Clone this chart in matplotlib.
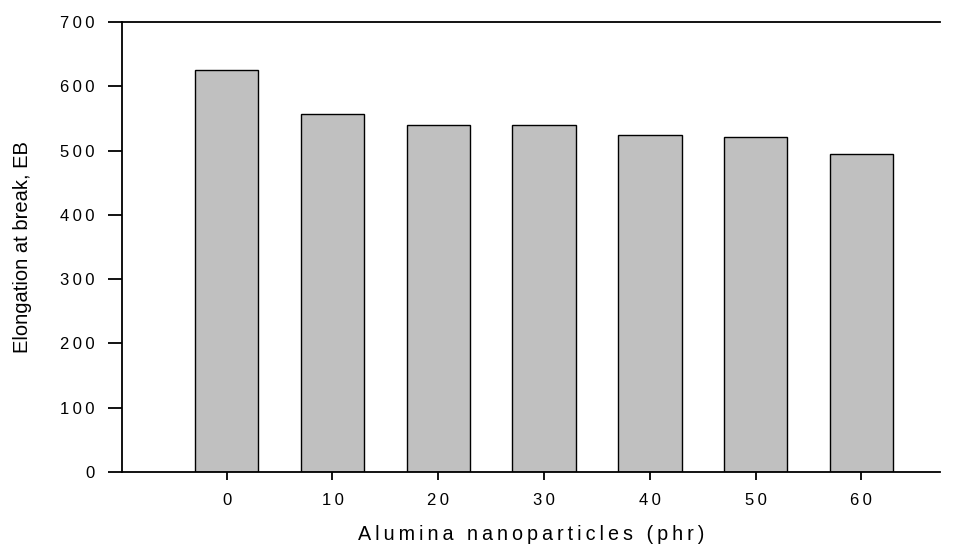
import matplotlib
matplotlib.use("Agg")
import matplotlib.pyplot as plt

categories = ["0", "10", "20", "30", "40", "50", "60"]
values = [625, 557, 540, 540, 524, 521, 495]
yticks = [0, 100, 200, 300, 400, 500, 600, 700]

plt.rcParams['font.family'] = ['Liberation Sans', 'DejaVu Sans']

def spaced(s, sep):
    return sep.join(list(s))

fig = plt.figure(figsize=(9.55, 5.46), dpi=100)
ax = fig.add_axes([0.1277, 0.1355, 0.984 - 0.1277, 0.9597 - 0.1355])

x = list(range(len(categories)))
ax.bar(x, values, width=0.6, color="#c0c0c0", edgecolor="black", linewidth=1.0, zorder=2)

ax.set_xlim(-0.99, 6.74)
ax.set_ylim(0, 700)
ax.set_xticks(x)
ax.set_xticklabels([spaced(c, "\u2009") for c in categories])
ax.set_yticks(yticks)
ax.set_yticklabels([spaced(str(t), "\u2009") for t in yticks])

ax.spines['right'].set_visible(False)
ax.spines['top'].set_visible(True)
for s in ['left', 'bottom', 'top']:
    ax.spines[s].set_linewidth(1.3)

ax.tick_params(axis='y', direction='out', length=10, width=1.3, labelsize=12, pad=10)
ax.tick_params(axis='x', direction='out', length=6, width=1.3, labelsize=12, pad=9)

ax.set_xlabel(spaced("Alumina nanoparticles (phr)", "\u2009"), fontsize=14.2, labelpad=12)
ax.set_ylabel("Elongation at break, EB", fontsize=14.5, labelpad=20)

fig.savefig("out.png", dpi=100)
